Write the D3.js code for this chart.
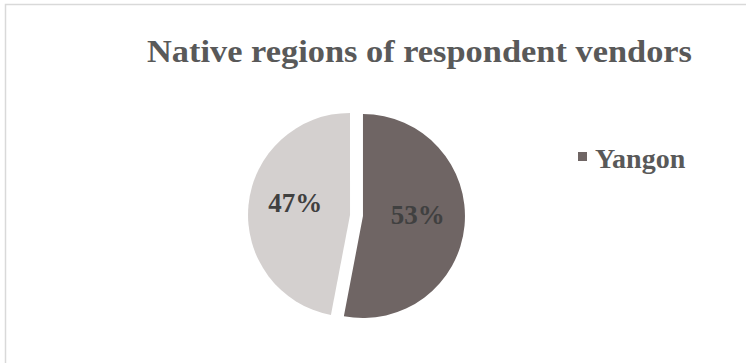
<!DOCTYPE html>
<html>
<head>
<meta charset="utf-8">
<script src="https://cdn.jsdelivr.net/npm/d3@7"></script>
<style>
  html, body { margin: 0; padding: 0; background: #ffffff; }
  svg { display: block; }
</style>
</head>
<body>
<svg id="chart" width="746" height="363"></svg>
<script>
// Chart data
const title = "Native regions of respondent vendors";
const categories = ["Yangon", ""];
const values = [53, 47];
const colors = ["#6f6564", "#d4d0cf"];

const width = 746, height = 363;
const fontFamily = "'Liberation Serif', 'DejaVu Serif', serif";
const svg = d3.select("#chart");

// Chart area frame
svg.append("rect")
  .attr("x", 5.5).attr("y", 4.5)
  .attr("width", width + 10).attr("height", height + 10)
  .attr("fill", "#ffffff")
  .attr("stroke", "#d9d9d9")
  .attr("stroke-width", 1.5);

// Title
svg.append("text")
  .attr("x", 419.5).attr("y", 62)
  .attr("text-anchor", "middle")
  .attr("font-family", fontFamily)
  .attr("font-weight", "bold")
  .attr("font-size", 32)
  .attr("textLength", 545)
  .attr("lengthAdjust", "spacingAndGlyphs")
  .attr("fill", "#595959")
  .text(title);

// Pie
const cx = 356.5, cy = 215.5, radius = 102, explode = 6.5;
const total = d3.sum(values);
const pie = d3.pie().sort(null).value(d => d.value);
const arcs = pie(categories.map((c, i) => ({ name: c, value: values[i], color: colors[i] })));
const arc = d3.arc().innerRadius(0).outerRadius(radius);
const labelArc = d3.arc().innerRadius(radius * 0.54).outerRadius(radius * 0.54);

const g = svg.append("g").attr("transform", `translate(${cx},${cy})`);
const slices = g.selectAll("g.slice").data(arcs).join("g")
  .attr("class", "slice")
  .attr("transform", d => {
    const a = (d.startAngle + d.endAngle) / 2;
    return `translate(${Math.sin(a) * explode},${-Math.cos(a) * explode})`;
  });

slices.append("path")
  .attr("d", arc)
  .attr("fill", d => d.data.color);

slices.append("text")
  .attr("transform", d => {
    const [x, y] = labelArc.centroid(d);
    return `translate(${x},${y - 7})`;
  })
  .attr("text-anchor", "middle")
  .attr("dy", "0.35em")
  .attr("font-family", fontFamily)
  .attr("font-weight", "bold")
  .attr("font-size", 27)
  .attr("fill", "#404040")
  .text(d => Math.round(d.data.value / total * 100) + "%");

// Legend (only named categories)
const legendItems = arcs.filter(d => d.data.name);
const legend = svg.append("g").attr("transform", "translate(578,152)");
const li = legend.selectAll("g").data(legendItems).join("g")
  .attr("transform", (d, i) => `translate(0,${i * 30})`);
li.append("rect")
  .attr("width", 9).attr("height", 9)
  .attr("fill", d => d.data.color);
li.append("text")
  .attr("x", 17).attr("y", 6)
  .attr("dy", "0.35em")
  .attr("font-family", fontFamily)
  .attr("font-weight", "bold")
  .attr("font-size", 28)
  .attr("fill", "#595959")
  .text(d => d.data.name);
</script>
</body>
</html>
